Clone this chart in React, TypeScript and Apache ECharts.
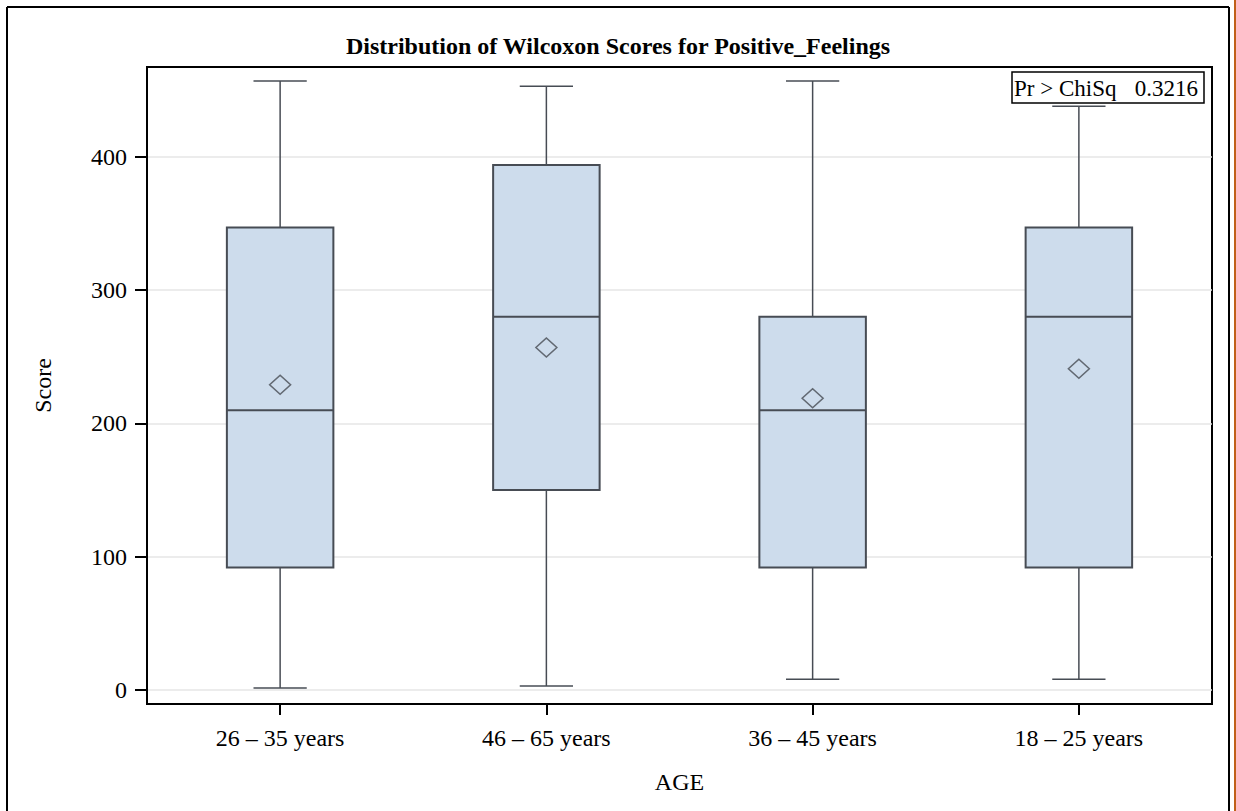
import React, { useEffect, useRef } from "react";
import * as echarts from "echarts";

const categories = ["26 – 35 years", "46 – 65 years", "36 – 45 years", "18 – 25 years"];
const lowWhisker = [1.5, 3, 8, 8];
const q1Values = [92, 150, 92, 92];
const medianValues = [210, 280, 210, 280];
const q3Values = [347, 394, 280, 347];
const highWhisker = [457, 453, 457, 438];
const meanValues = [229, 257, 219, 241];
const yTicks = [0, 100, 200, 300, 400];

const FONT = "'Liberation Serif', 'Times New Roman', serif";
const STROKE = "#474c54";

export default function App() {
  const ref = useRef<HTMLDivElement>(null);
  useEffect(() => {
    document.body.style.margin = "0";
    const chart = echarts.init(ref.current!, null, { renderer: "svg" });
    const boxData = categories.map((_, i) => [
      i,
      lowWhisker[i],
      q1Values[i],
      medianValues[i],
      q3Values[i],
      highWhisker[i],
    ]);
    chart.setOption({
      animation: false,
      backgroundColor: "#ffffff",
      title: {
        text: "Distribution of Wilcoxon Scores for Positive_Feelings",
        left: "center",
        top: 29,
        textStyle: { fontFamily: FONT, fontSize: 24, fontWeight: "bold", color: "#000" },
      },
      grid: {
        left: 147,
        top: 67,
        right: 24,
        bottom: 107,
        show: true,
        borderColor: "#000",
        borderWidth: 2,
        backgroundColor: "transparent",
      },
      xAxis: {
        type: "category",
        data: categories,
        name: "AGE",
        nameLocation: "middle",
        nameGap: 66,
        nameTextStyle: { fontFamily: FONT, fontSize: 24, color: "#000" },
        axisLine: { show: true, onZero: false, lineStyle: { color: "#000", width: 2 } },
        axisTick: { show: true, alignWithLabel: true, length: 11, lineStyle: { color: "#000", width: 2 } },
        axisLabel: { fontFamily: FONT, fontSize: 24, color: "#000", margin: 22 },
        splitLine: { show: false },
      },
      yAxis: {
        type: "value",
        min: -10.5,
        max: 467.5,
        name: "Score",
        nameLocation: "middle",
        nameGap: 92,
        nameTextStyle: { fontFamily: FONT, fontSize: 24, color: "#000" },
        axisLine: { show: true, onZero: false, lineStyle: { color: "#000", width: 2 } },
        axisTick: { show: true, length: 12, customValues: yTicks, lineStyle: { color: "#000", width: 2 } },
        axisLabel: { fontFamily: FONT, fontSize: 24, color: "#000", margin: 20, customValues: yTicks },
        splitLine: { show: true, lineStyle: { color: "#e6e6e6", width: 1.5 } },
      },
      series: [
        {
          type: "custom",
          data: boxData,
          encode: { x: 0, y: [1, 2, 3, 4, 5] },
          renderItem: (params: any, api: any) => {
            const x = api.value(0);
            const low = api.coord([x, api.value(1)]);
            const q1 = api.coord([x, api.value(2)]);
            const med = api.coord([x, api.value(3)]);
            const q3 = api.coord([x, api.value(4)]);
            const high = api.coord([x, api.value(5)]);
            const band = api.size([1, 0])[0];
            const bw = band * 0.4;
            const cw = bw / 2;
            const cx = q1[0];
            const lineStyle = { stroke: STROKE, lineWidth: 1.5 };
            return {
              type: "group",
              children: [
                { type: "line", shape: { x1: cx, y1: q3[1], x2: cx, y2: high[1] }, style: lineStyle },
                { type: "line", shape: { x1: cx, y1: q1[1], x2: cx, y2: low[1] }, style: lineStyle },
                { type: "line", shape: { x1: cx - cw / 2, y1: high[1], x2: cx + cw / 2, y2: high[1] }, style: lineStyle },
                { type: "line", shape: { x1: cx - cw / 2, y1: low[1], x2: cx + cw / 2, y2: low[1] }, style: lineStyle },
                {
                  type: "rect",
                  shape: { x: cx - bw / 2, y: q3[1], width: bw, height: q1[1] - q3[1] },
                  style: { fill: "#cddcec", stroke: STROKE, lineWidth: 2 },
                },
                { type: "line", shape: { x1: cx - bw / 2, y1: med[1], x2: cx + bw / 2, y2: med[1] }, style: { stroke: STROKE, lineWidth: 2 } },
              ],
            };
          },
          z: 2,
        },
        {
          type: "scatter",
          data: categories.map((c, i) => [i, meanValues[i]]),
          symbol: "diamond",
          symbolSize: [21, 19],
          itemStyle: { color: "rgba(0,0,0,0)", borderColor: STROKE, borderWidth: 1.5 },
          z: 3,
        },
      ],
      graphic: [
        { type: "line", shape: { x1: 7, y1: 7, x2: 1229, y2: 7 }, style: { stroke: "#000", lineWidth: 2 } },
        { type: "line", shape: { x1: 7, y1: 7, x2: 7, y2: 811 }, style: { stroke: "#000", lineWidth: 2 } },
        { type: "line", shape: { x1: 1229, y1: 7, x2: 1229, y2: 811 }, style: { stroke: "#000", lineWidth: 2 } },
        { type: "line", shape: { x1: 1235, y1: 0, x2: 1235, y2: 811 }, style: { stroke: "#c0601a", lineWidth: 2 } },
        {
          type: "group",
          z: 10,
          children: [
            { type: "rect", shape: { x: 1012, y: 72, width: 192, height: 31 }, style: { fill: "#fff", stroke: "#000", lineWidth: 1.5 } },
            {
              type: "text",
              x: 1014,
              y: 88,
              style: { text: "Pr > ChiSq", font: `23px ${FONT}`, fill: "#000", verticalAlign: "middle" },
            },
            {
              type: "text",
              x: 1198,
              y: 88,
              style: { text: "0.3216", font: `23px ${FONT}`, fill: "#000", align: "right", verticalAlign: "middle" },
            },
          ],
        },
      ],
    });
    return () => chart.dispose();
  }, []);
  return <div ref={ref} style={{ width: 1236, height: 811 }} />;
}
